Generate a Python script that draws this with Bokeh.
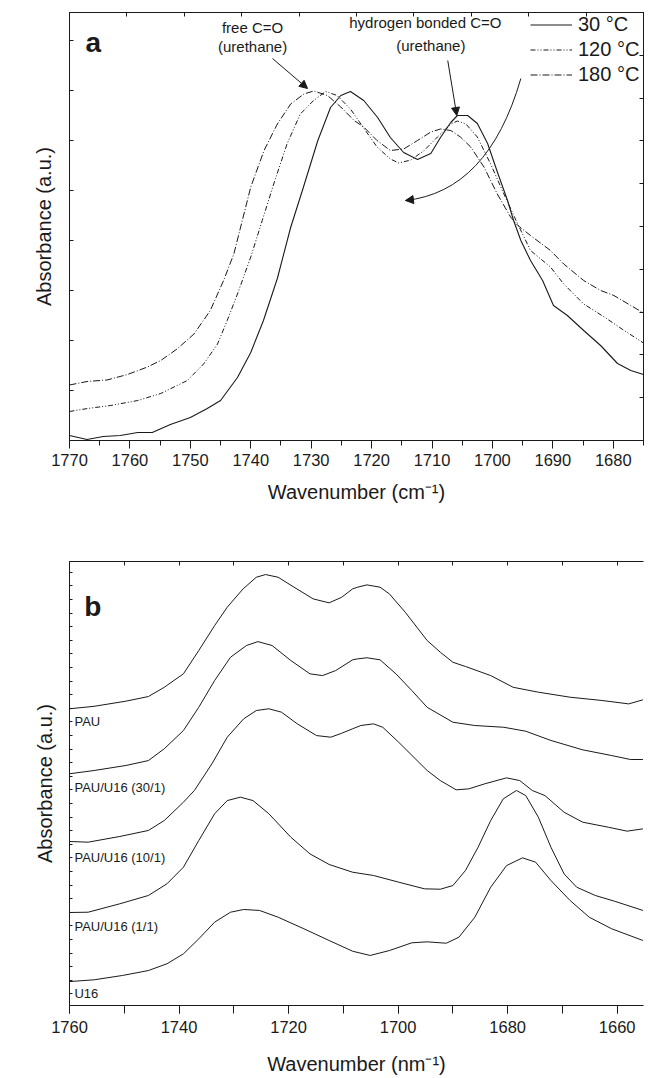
from bokeh.plotting import figure
from bokeh.models import (Range1d, LinearAxis, FixedTicker, CustomJSTickFormatter,
                          Legend, LegendItem, Arrow, NormalHead)
from bokeh.layouts import column
from bokeh.embed import file_html
from bokeh.resources import INLINE
from bokeh.core.properties import value

FONT = "Liberation Sans"
INK = "#1a1a1a"

# ---------------- panel a : temperature series ----------------
w30 = [1770.0, 1767.1, 1764.4, 1761.6, 1758.7, 1756.3, 1753.3, 1750.0, 1747.2, 1745.0,
       1742.2, 1740.0, 1737.9, 1735.6, 1733.4, 1731.3, 1728.9, 1726.8, 1725.1, 1723.5,
       1721.3, 1719.0, 1716.9, 1714.7, 1712.4, 1710.2, 1708.6, 1706.9, 1705.8, 1704.1,
       1702.5, 1700.8, 1699.1, 1697.5, 1696.5, 1695.3, 1693.7, 1691.7, 1689.9, 1687.6,
       1684.9, 1682.1, 1679.3, 1677.1, 1675.0]
a30 = [0.10, 0.02, 0.08, 0.10, 0.16, 0.16, 0.32, 0.46, 0.64, 0.80,
       1.26, 1.76, 2.40, 3.24, 4.26, 5.06, 6.00, 6.66, 6.90, 6.98,
       6.80, 6.46, 6.06, 5.76, 5.62, 5.74, 6.06, 6.36, 6.50, 6.50,
       6.34, 5.94, 5.34, 4.80, 4.40, 4.00, 3.60, 3.20, 2.70, 2.50,
       2.20, 1.90, 1.54, 1.40, 1.32]

w120 = [1770.0, 1767.0, 1763.2, 1758.7, 1754.9, 1750.5, 1747.8, 1745.5, 1743.9, 1742.2,
        1740.0, 1738.1, 1736.2, 1734.0, 1731.8, 1729.6, 1727.6, 1725.7, 1723.5, 1721.6,
        1719.1, 1716.9, 1715.5, 1713.5, 1711.3, 1709.1, 1706.9, 1705.8, 1704.4, 1702.5,
        1700.3, 1698.1, 1695.9, 1693.7, 1690.4, 1688.2, 1684.9, 1681.5, 1678.2, 1675.0]
a120 = [0.58, 0.64, 0.70, 0.80, 0.94, 1.20, 1.53, 1.93, 2.40, 2.93,
        3.67, 4.40, 5.13, 5.93, 6.53, 6.80, 6.98, 6.90, 6.63, 6.30,
        5.87, 5.63, 5.55, 5.61, 5.80, 6.07, 6.33, 6.39, 6.33, 6.07,
        5.53, 4.93, 4.35, 3.80, 3.47, 3.13, 2.73, 2.47, 2.20, 1.95]

w180 = [1770.0, 1767.1, 1763.8, 1760.4, 1757.1, 1754.9, 1752.2, 1749.4, 1746.7, 1744.5,
        1742.8, 1741.4, 1740.0, 1737.8, 1735.6, 1733.4, 1731.2, 1729.6, 1727.3, 1725.1,
        1722.9, 1721.3, 1719.1, 1716.9, 1714.7, 1712.4, 1710.2, 1708.6, 1706.9, 1705.3,
        1703.6, 1701.4, 1699.2, 1697.0, 1695.8, 1693.7, 1690.4, 1688.2, 1684.9, 1682.1,
        1679.9, 1677.1, 1675.0]
a180 = [1.11, 1.18, 1.21, 1.32, 1.47, 1.60, 1.83, 2.13, 2.60, 3.20,
        3.73, 4.40, 5.07, 5.80, 6.33, 6.73, 6.93, 6.99, 6.90, 6.67,
        6.40, 6.27, 6.00, 5.80, 5.83, 6.00, 6.17, 6.23, 6.20, 6.07,
        5.87, 5.47, 4.93, 4.47, 4.30, 4.10, 3.80, 3.53, 3.20, 3.00,
        2.90, 2.70, 2.55]

legend_labels = ["30 \u00b0C", "120 \u00b0C", "180 \u00b0C"]
ticks_a = list(range(1680, 1771, 10))

# annotation text of panel a (x, y in data units)
ann_text = ["free C=O", "(urethane)", "hydrogen bonded C=O", "(urethane)"]
ann_x = [1739.7, 1739.7, 1711.1, 1710.2]
ann_y = [8.27, 7.88, 8.37, 7.91]

# ---------------- panel b : composition series ----------------
w_pau = [1760.0, 1755.5, 1749.7, 1745.6, 1742.7, 1739.2, 1736.4, 1733.5, 1731.2, 1728.3,
         1725.9, 1724.2, 1721.9, 1719.0, 1715.5, 1712.6, 1710.3, 1708.3, 1707.4, 1705.7,
         1703.3, 1701.6, 1698.7, 1694.7, 1692.3, 1690.0, 1687.7, 1683.1, 1679.0, 1674.4,
         1668.6, 1662.8, 1657.9, 1655.3]
b_pau = [21.82, 22.00, 22.38, 22.72, 23.40, 24.39, 26.10, 27.94, 29.29, 30.64,
         31.49, 31.69, 31.49, 30.76, 29.90, 29.61, 30.02, 30.64, 30.76, 30.93,
         30.76, 30.27, 28.92, 26.84, 25.98, 25.24, 24.93, 24.26, 23.40, 23.04,
         22.67, 22.43, 22.18, 22.48]

w_30 = [1760.0, 1755.5, 1749.7, 1745.6, 1742.7, 1739.2, 1736.4, 1733.5, 1730.6, 1727.7,
        1725.6, 1723.0, 1719.6, 1716.1, 1713.8, 1711.4, 1708.3, 1707.4, 1705.7, 1703.3,
        1700.4, 1697.5, 1694.7, 1690.0, 1686.0, 1680.7, 1676.7, 1672.1, 1666.3, 1661.0,
        1657.6, 1655.3]
b_30 = [17.04, 17.28, 17.65, 18.01, 18.88, 20.22, 21.93, 23.90, 25.61, 26.47,
        26.76, 26.47, 25.37, 24.39, 24.26, 24.63, 25.42, 25.49, 25.57, 25.42,
        24.39, 23.16, 21.93, 20.83, 20.59, 20.46, 20.17, 19.49, 18.80, 18.38,
        18.09, 18.09]

w_10 = [1760.0, 1756.6, 1750.8, 1745.6, 1742.7, 1739.2, 1737.2, 1734.0, 1731.2, 1728.2,
        1725.9, 1723.6, 1721.3, 1718.4, 1714.9, 1712.3, 1710.3, 1708.3, 1706.8, 1704.5,
        1702.8, 1699.9, 1694.7, 1692.3, 1689.4, 1687.1, 1684.2, 1680.2, 1677.8, 1675.5,
        1673.2, 1669.7, 1666.3, 1661.6, 1658.2, 1655.3]
b_10 = [12.06, 12.01, 12.43, 12.87, 13.60, 14.95, 15.81, 17.77, 19.73, 21.08,
        21.69, 21.82, 21.57, 20.71, 19.85, 19.73, 20.02, 20.35, 20.59, 20.71,
        20.46, 19.36, 17.28, 16.54, 15.86, 15.93, 16.30, 16.74, 16.54, 15.81,
        15.44, 14.21, 13.48, 13.11, 12.82, 12.99]

w_1 = [1760.0, 1756.6, 1750.8, 1745.6, 1742.2, 1739.2, 1736.4, 1733.5, 1731.2, 1728.8,
       1726.5, 1723.6, 1719.6, 1716.1, 1712.6, 1708.3, 1704.5, 1699.9, 1695.2, 1692.3,
       1690.0, 1687.7, 1685.4, 1683.1, 1680.8, 1678.4, 1676.7, 1674.4, 1672.1, 1669.7,
       1667.4, 1664.0, 1660.5, 1655.3]
b_1 = [6.84, 6.86, 7.48, 8.09, 8.95, 10.17, 12.13, 14.10, 15.07, 15.32,
       15.07, 14.10, 12.38, 11.15, 10.37, 9.80, 9.56, 9.07, 8.58, 8.55,
       8.82, 9.93, 11.64, 13.60, 15.20, 15.81, 15.44, 13.85, 11.64, 9.68,
       8.70, 8.09, 7.67, 6.99]

w_u16 = [1760.0, 1755.5, 1750.3, 1745.6, 1742.2, 1739.2, 1736.4, 1733.5, 1730.6, 1728.2,
         1725.3, 1721.9, 1717.2, 1712.6, 1708.3, 1705.1, 1701.6, 1697.5, 1694.7, 1691.2,
         1688.9, 1686.0, 1683.1, 1680.2, 1677.3, 1674.9, 1672.1, 1668.6, 1665.1, 1661.0,
         1655.3]
b_u16 = [1.76, 1.89, 2.21, 2.57, 3.07, 3.80, 4.90, 6.13, 6.86, 7.06,
         6.99, 6.49, 5.64, 4.78, 3.99, 3.68, 4.04, 4.61, 4.68, 4.58,
         5.02, 6.49, 8.70, 10.29, 10.86, 10.54, 9.19, 7.72, 6.49, 5.64,
         4.78]

sample_names = ["PAU", "PAU/U16 (30/1)", "PAU/U16 (10/1)", "PAU/U16 (1/1)", "U16"]
name_y = [20.90, 16.05, 10.90, 5.83, 0.86]
ticks_b = list(range(1660, 1761, 20))
minor_b = list(range(1660, 1761, 10))

blank = CustomJSTickFormatter(code="return ''")


def deco_axis(ax, n_ticks, tick_in):
    ax.ticker = FixedTicker(ticks=n_ticks, minor_ticks=[])
    ax.major_tick_in = tick_in
    ax.major_tick_out = 0
    ax.minor_tick_in = 0
    ax.minor_tick_out = 0
    ax.major_label_text_font_size = "0px"
    ax.major_label_standoff = 0
    ax.formatter = blank
    ax.axis_line_color = INK
    ax.major_tick_line_color = INK


def style_ylabel(ax, standoff):
    ax.axis_label = "Absorbance (a.u.)"
    ax.axis_label_text_font = FONT
    ax.axis_label_text_font_size = "20px"
    ax.axis_label_text_font_style = "normal"
    ax.axis_label_text_color = INK
    ax.axis_label_standoff = standoff


def style_xaxis(ax, label, lab_standoff, standoff):
    ax.axis_label = label
    ax.axis_label_text_font = FONT
    ax.axis_label_text_font_size = "20px"
    ax.axis_label_text_font_style = "normal"
    ax.axis_label_text_color = INK
    ax.axis_label_standoff = standoff
    ax.major_label_text_font = FONT
    ax.major_label_text_font_size = "16.5px"
    ax.major_label_text_color = INK
    ax.major_label_standoff = lab_standoff
    ax.axis_line_color = INK
    ax.major_tick_line_color = INK
    ax.minor_tick_line_color = INK


# ================= figure a =================
p1 = figure(width=670, height=540, x_range=Range1d(1770, 1675), y_range=Range1d(0, 8.56),
            output_backend="svg", toolbar_location=None,
            min_border_left=69, min_border_right=27, min_border_top=12, min_border_bottom=100)
p1.grid.visible = False
p1.outline_line_color = INK
p1.outline_line_width = 1
p1.extra_x_ranges = {"top": Range1d(0, 10)}
p1.extra_y_ranges = {"right": Range1d(0, 10)}

xa = p1.xaxis[0]
xa.ticker = FixedTicker(ticks=ticks_a, minor_ticks=list(range(1675, 1771, 5)))
xa.major_tick_in = 0
xa.major_tick_out = 8
xa.minor_tick_in = 0
xa.minor_tick_out = 5
style_xaxis(xa, "Wavenumber (cm\u207b\u00b9)", 5, 12)

ya = p1.yaxis[0]
deco_axis(ya, list(range(0, 9)), 4)
style_ylabel(ya, 15)

top_a = LinearAxis(x_range_name="top")
deco_axis(top_a, list(range(0, 11)), 4)
p1.add_layout(top_a, "above")
right_a = LinearAxis(y_range_name="right")
deco_axis(right_a, list(range(0, 11)), 4)
p1.add_layout(right_a, "right")

r30 = p1.line(w30, a30, line_color=INK, line_width=1.1)
r120 = p1.line(w120, a120, line_color=INK, line_width=1.0, line_dash="5 2 1 2 1 2")
r180 = p1.line(w180, a180, line_color=INK, line_width=1.0, line_dash="7 2 1 2")

legend = Legend(items=[LegendItem(label=legend_labels[0], renderers=[r30]),
                       LegendItem(label=legend_labels[1], renderers=[r120]),
                       LegendItem(label=legend_labels[2], renderers=[r180])],
                location=(461, 353), glyph_width=42, glyph_height=25, label_height=25,
                label_standoff=6, spacing=0, padding=0, margin=0,
                border_line_color=None, background_fill_alpha=0,
                label_text_font=FONT, label_text_font_size="20px", label_text_color=INK)
p1.add_layout(legend)

p1.text(x=ann_x, y=ann_y, text=ann_text, text_font=value(FONT), text_font_size="15px",
        text_align="center", text_baseline="alphabetic", text_color=INK)
p1.text(x=[1767.35], y=[7.96], text=["a"], text_font=value(FONT), text_font_size="28px",
        text_font_style="bold", text_align="left", text_baseline="alphabetic", text_color=INK)

head = dict(size=8, fill_color=INK, line_color=INK)
p1.add_layout(Arrow(end=NormalHead(**head), x_start=1736.4, y_start=7.64,
                    x_end=1730.6, y_end=7.04, line_color=INK, line_width=1))
p1.add_layout(Arrow(end=NormalHead(**head), x_start=1707.4, y_start=7.60,
                    x_end=1705.9, y_end=6.50, line_color=INK, line_width=1))
p1.quadratic(x0=[1695.3], y0=[7.24], x1=[1714.4], y1=[4.80], cx=[1700.7], cy=[4.98],
             line_color=INK, line_width=1)
p1.add_layout(Arrow(end=NormalHead(**head), x_start=1713.0, y_start=4.82,
                    x_end=1714.4, y_end=4.80, line_color=INK, line_width=1))

# ================= figure b =================
p2 = figure(width=670, height=538, x_range=Range1d(1760, 1655.2), y_range=Range1d(0, 32.65),
            output_backend="svg", toolbar_location=None,
            min_border_left=67, min_border_right=0, min_border_top=21, min_border_bottom=73)
p2.grid.visible = False
p2.outline_line_color = None

xb = p2.xaxis[0]
xb.ticker = FixedTicker(ticks=ticks_b, minor_ticks=minor_b)
xb.major_tick_in = 0
xb.major_tick_out = 8
xb.minor_tick_in = 0
xb.minor_tick_out = 8
style_xaxis(xb, "Wavenumber (nm\u207b\u00b9)", 7, 17)

yb = p2.yaxis[0]
deco_axis(yb, [0.86 + k for k in range(32)], 3)
style_ylabel(yb, 14)

top_b = LinearAxis()
deco_axis(top_b, minor_b, 4)
p2.add_layout(top_b, "above")

for wx, by in [(w_pau, b_pau), (w_30, b_30), (w_10, b_10), (w_1, b_1), (w_u16, b_u16)]:
    p2.line(wx, by, line_color=INK, line_width=1.0)

p2.text(x=[1759.1] * len(sample_names), y=name_y, text=sample_names, text_font=value(FONT),
        text_font_size="13px", text_align="left", text_baseline="alphabetic", text_color=INK)
p2.text(x=[1757.3], y=[29.34], text=["b"], text_font=value(FONT), text_font_size="28px",
        text_font_style="bold", text_align="left", text_baseline="alphabetic", text_color=INK)

layout = column(p1, p2)
open("out.html", "w").write(file_html(layout, INLINE))
